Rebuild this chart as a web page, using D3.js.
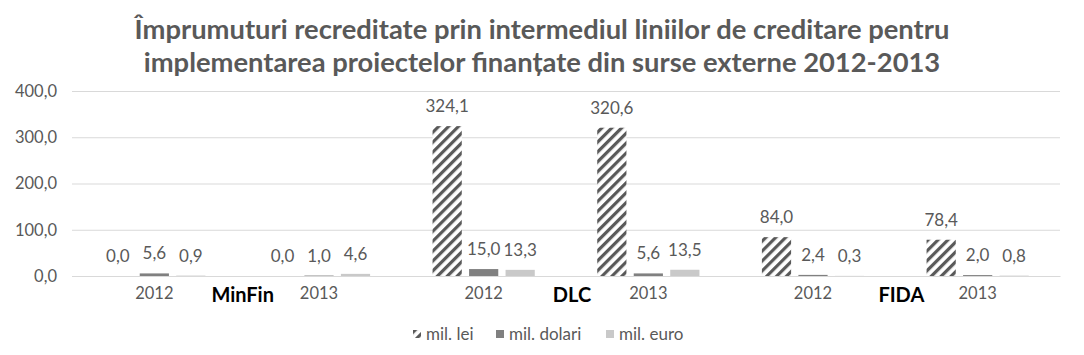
<!DOCTYPE html>
<html><head><meta charset="utf-8">
<script src="https://cdn.jsdelivr.net/npm/d3@7"></script>
<style>
html,body{margin:0;padding:0;background:#fff;}
svg{display:block;font-family:Lato,"Open Sans",sans-serif;}
</style></head>
<body>
<svg id="chart" width="1084" height="355"></svg>
<script>
const titleLines = ["Împrumuturi recreditate prin intermediul liniilor de creditare pentru",
                    "implementarea proiectelor finanțate din surse externe 2012-2013"];
const groups = ["MinFin", "DLC", "FIDA"];
const years = ["2012", "2013"];
const series = ["mil. lei", "mil. dolari", "mil. euro"];
const lei    = [0.0, 0.0, 324.1, 320.6, 84.0, 78.4];
const dolari = [5.6, 1.0, 15.0, 5.6, 2.4, 2.0];
const euro   = [0.9, 4.6, 13.3, 13.5, 0.3, 0.8];
const yTicks = [0, 100, 200, 300, 400];

(function () {
const seriesValues = [lei, dolari, euro];
const slots = [];
groups.forEach(g => years.forEach(yr => slots.push({group: g, year: yr, key: g + "|" + yr})));
const rows = slots.map((s, i) => ({...s, values: series.map((name, j) => ({name, value: seriesValues[j][i]}))}));

const svg = d3.select("#chart");
const grey = "#595959";
const pLeft = 72, pRight = 1060, pTop = 91, pBottom = 276;

const x0 = d3.scaleBand().domain(slots.map(s => s.key)).range([pLeft, pRight]).padding(0);
const x1 = d3.scaleBand().domain(series).range([-51.1, 51.1]).paddingInner(0.2);
const y = d3.scaleLinear().domain([0, 400]).range([pBottom, pTop]);
const fmt = v => d3.format(".1f")(v).replace(".", ",");

// pattern
const defs = svg.append("defs");
const pat = defs.append("pattern").attr("id", "hatch").attr("patternUnits", "userSpaceOnUse")
  .attr("width", 7).attr("height", 7).attr("patternTransform", "rotate(45)");
pat.append("rect").attr("width", 7).attr("height", 7).attr("fill", "#fff");
pat.append("rect").attr("width", 3.2).attr("height", 7).attr("fill", grey);
const colors = {"mil. lei": "url(#hatch)", "mil. dolari": "#808080", "mil. euro": "#c9c9c9"};

// title
const title = svg.append("g");
titleLines.forEach((t, i) => {
  title.append("text").attr("x", 542).attr("y", 39 + i * 33).attr("text-anchor", "middle")
    .attr("font-weight", "bold").attr("font-size", 25).attr("fill", grey).text(t);
});
const tnodes = title.selectAll("text").nodes();
const w0 = tnodes[0].getComputedTextLength();
const fs = 25 * 815 / w0;
title.selectAll("text").attr("font-size", fs);

// grid + y axis
const yAxis = d3.axisLeft(y).tickValues(yTicks).tickFormat(fmt).tickSize(-(pRight - pLeft)).tickPadding(15);
const ga = svg.append("g").attr("transform", `translate(${pLeft},0)`).call(yAxis);
ga.select(".domain").remove();
ga.selectAll(".tick line").attr("stroke", "#d9d9d9").attr("stroke-width", 1);
ga.selectAll(".tick text").attr("fill", grey).attr("font-size", 16.5).attr("font-family", "Lato");

// bars
const slotG = svg.append("g").selectAll("g").data(rows).join("g")
  .attr("transform", d => `translate(${x0(d.key) + x0.bandwidth() / 2},0)`);
slotG.selectAll("rect").data(d => d.values).join("rect")
  .attr("x", d => x1(d.name)).attr("width", x1.bandwidth())
  .attr("y", d => y(d.value)).attr("height", d => y(0) - y(d.value))
  .attr("fill", d => colors[d.name]);
slotG.selectAll("text.lbl").data(d => d.values).join("text").attr("class", "lbl")
  .attr("x", d => x1(d.name) + x1.bandwidth() / 2).attr("y", d => y(d.value) - 14)
  .attr("text-anchor", "middle").attr("font-size", 17).attr("fill", grey).text(d => fmt(d.value));

// category axis
const xAxis = d3.axisBottom(x0).tickFormat(k => k.split("|")[1]).tickSize(0).tickPadding(11);
const gx = svg.append("g").attr("transform", `translate(0,${pBottom})`).call(xAxis);
gx.select(".domain").attr("stroke", "#d9d9d9");
gx.selectAll(".tick text").attr("fill", grey).attr("font-size", 16.5).attr("font-family", "Lato");
groups.forEach(g => {
  const xb = x0(g + "|2013");
  svg.append("text").attr("x", xb + 6).attr("y", 302).attr("text-anchor", "middle")
    .attr("font-weight", "bold").attr("font-size", 20).attr("fill", "#000").text(g);
});

// legend
const legX = [413, 496, 606];
const leg = svg.append("g").selectAll("g").data(series).join("g")
  .attr("transform", (d, i) => `translate(${legX[i]},330)`);
leg.append("rect").attr("width", 8).attr("height", 8).attr("fill", d => colors[d]);
leg.append("text").attr("x", 13).attr("y", 9.5).attr("font-size", 17).attr("fill", grey).text(d => d);
})();
</script>
</body></html>
